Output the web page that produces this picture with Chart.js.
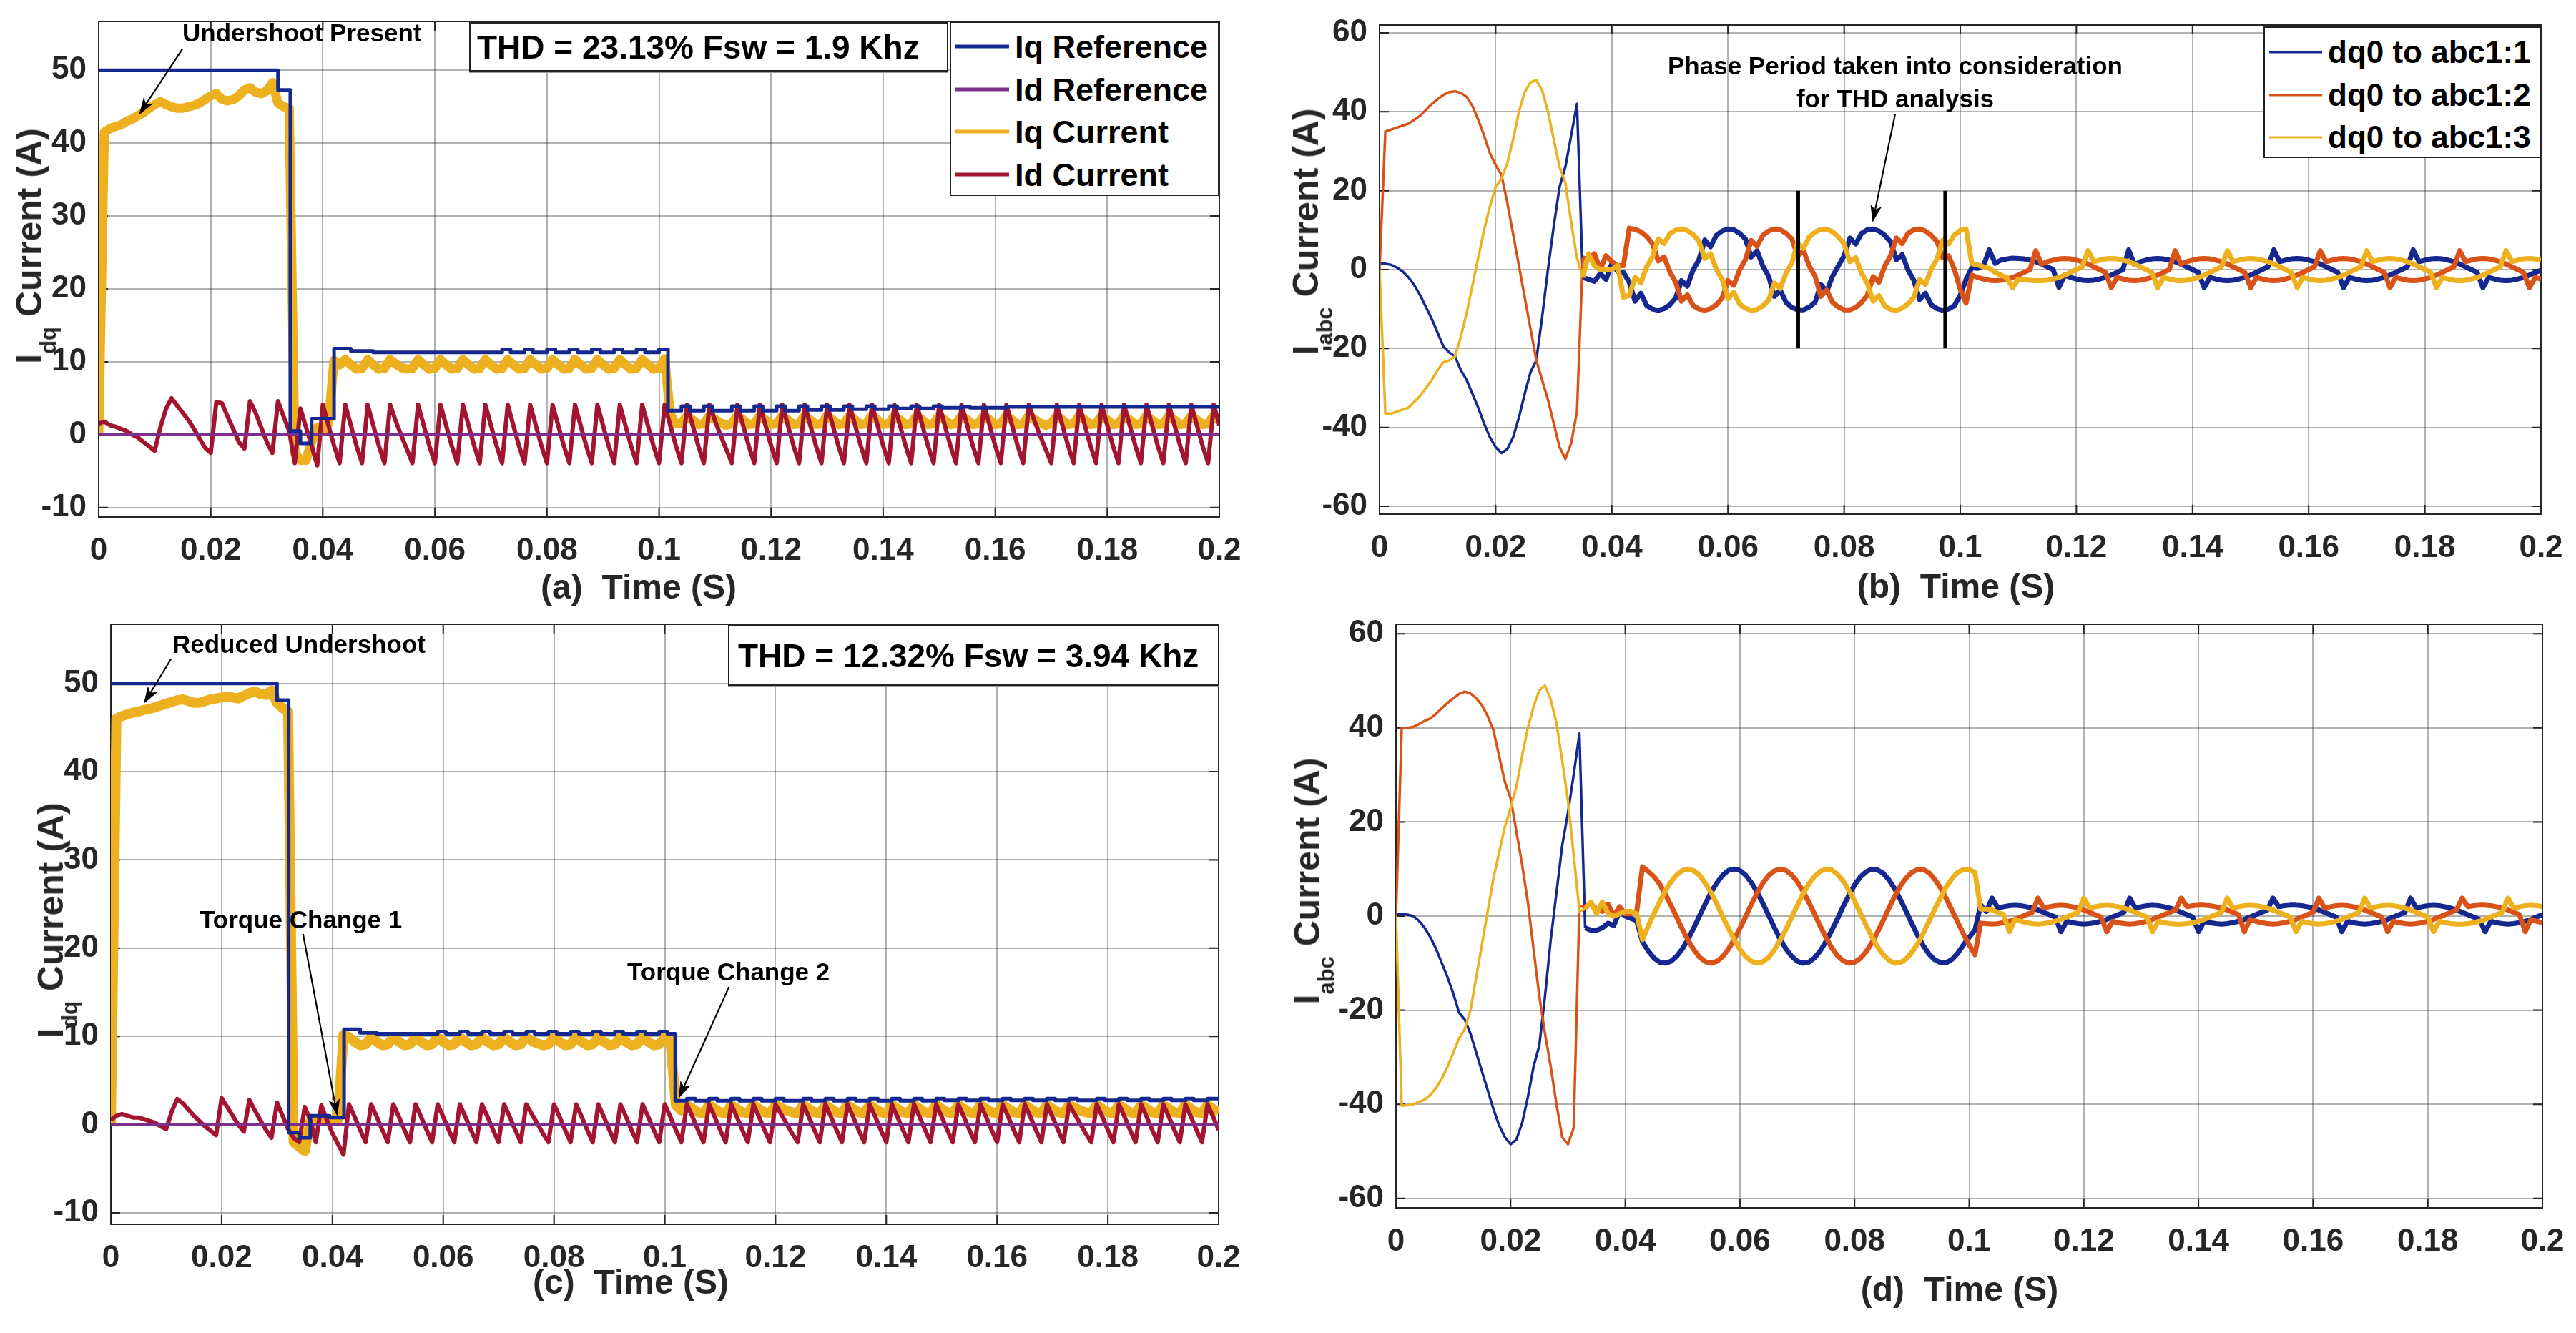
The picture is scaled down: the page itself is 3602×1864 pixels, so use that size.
<!DOCTYPE html>
<html><head><meta charset="utf-8">
<script src="https://cdn.jsdelivr.net/npm/chart.js"></script>
<style>
html,body{margin:0;padding:0;background:#fff;}
#wrap{position:relative;width:3602px;height:1864px;overflow:hidden;font-family:"Liberation Sans",Arial,Helvetica,sans-serif;font-weight:bold;color:#1a1a1a;}
canvas{position:absolute;}
.t{position:absolute;white-space:pre;line-height:1;}
.c{transform:translate(-50%,-50%);}
.yl{transform:translate(-50%,-50%) rotate(-90deg);font-size:50px;color:#262626;}
.xl{font-size:48px;color:#262626;}
.sb{font-size:0.62em;position:relative;top:0.66em;}
.ann{position:absolute;white-space:pre;line-height:1;font-size:35px;transform:translateY(-50%);color:#000;}
.box{position:absolute;box-sizing:border-box;border:2px solid #222;background:#fff;display:flex;align-items:center;white-space:pre;line-height:1;color:#000;box-shadow:0 2px 0 #9a9a9a;}
.leg{position:absolute;box-sizing:border-box;border:2px solid #222;background:#fff;}
.row{position:absolute;left:0;right:0;height:0;}
.sw{position:absolute;transform:translateY(-50%);}
.lt{position:absolute;transform:translateY(-50%);line-height:1;white-space:pre;color:#000;}
</style></head>
<body><div id="wrap">
<canvas id="ca" width="1800" height="850" style="left:0;top:0;width:1800px;height:850px"></canvas>
<canvas id="cb" width="1802" height="850" style="left:1800px;top:0;width:1802px;height:850px"></canvas>
<canvas id="cc" width="1800" height="1014" style="left:0;top:850px;width:1800px;height:1014px"></canvas>
<canvas id="cd" width="1802" height="1014" style="left:1800px;top:850px;width:1802px;height:1014px"></canvas>

<div class="t yl" style="left:41px;top:344px">I<span class="sb">dq</span> Current (A)</div>
<div class="t yl" style="left:1826px;top:324px">I<span class="sb">abc</span> Current (A)</div>
<div class="t yl" style="left:71px;top:1287px">I<span class="sb">dq</span> Current (A)</div>
<div class="t yl" style="left:1828px;top:1232px">I<span class="sb">abc</span> Current (A)</div>

<div class="t c xl" style="left:893px;top:821px">(a)  Time (S)</div>
<div class="t c xl" style="left:2735px;top:820px">(b)  Time (S)</div>
<div class="t c xl" style="left:882px;top:1793px">(c)  Time (S)</div>
<div class="t c xl" style="left:2740px;top:1803px">(d)  Time (S)</div>

<div class="box" style="left:656px;top:31px;width:670px;height:69px;font-size:46px;padding-left:9px">THD = 23.13% Fsw = 1.9 Khz</div>
<div class="box" style="left:1018px;top:874px;width:687px;height:85px;font-size:46px;padding-left:12px">THD = 12.32% Fsw = 3.94 Khz</div>

<div class="leg" style="left:1328px;top:30px;width:377px;height:244px">
 <div class="row" style="top:33px"><span class="sw" style="left:6px;width:75px;height:5px;background:#15288f"></span><span class="lt" style="left:89px;font-size:45px">Iq Reference</span></div>
 <div class="row" style="top:93px"><span class="sw" style="left:6px;width:75px;height:5px;background:#7E2F8E"></span><span class="lt" style="left:89px;font-size:45px">Id Reference</span></div>
 <div class="row" style="top:152px"><span class="sw" style="left:6px;width:75px;height:5px;background:#EDB120"></span><span class="lt" style="left:89px;font-size:45px">Iq Current</span></div>
 <div class="row" style="top:212px"><span class="sw" style="left:6px;width:75px;height:5px;background:#A2142F"></span><span class="lt" style="left:89px;font-size:45px">Id Current</span></div>
</div>
<div class="leg" style="left:3165px;top:37px;width:388px;height:184px">
 <div class="row" style="top:34px"><span class="sw" style="left:6px;width:74px;height:3px;background:#15288f"></span><span class="lt" style="left:88px;font-size:44px">dq0 to abc1:1</span></div>
 <div class="row" style="top:94px"><span class="sw" style="left:6px;width:74px;height:3px;background:#D95319"></span><span class="lt" style="left:88px;font-size:44px">dq0 to abc1:2</span></div>
 <div class="row" style="top:153px"><span class="sw" style="left:6px;width:74px;height:3px;background:#EDB120"></span><span class="lt" style="left:88px;font-size:44px">dq0 to abc1:3</span></div>
</div>

<div class="ann" style="left:255px;top:45px">Undershoot Present</div>
<div class="t" style="left:2650px;top:69px;transform:translateX(-50%);text-align:center;font-size:35px;line-height:46px;color:#000">Phase Period taken into consideration
for THD analysis</div>
<div class="ann" style="left:241px;top:900px">Reduced Undershoot</div>
<div class="ann" style="left:279px;top:1285px">Torque Change 1</div>
<div class="ann" style="left:877px;top:1358px">Torque Change 2</div>
</div>

<script>
// ---------- data (time step 1 ms, t = index * 0.001 s) ----------
const DT = 0.001;
const X_TICKS = [0,0.02,0.04,0.06,0.08,0.1,0.12,0.14,0.16,0.18,0.2];
const X_TICK_LABELS = ['0','0.02','0.04','0.06','0.08','0.1','0.12','0.14','0.16','0.18','0.2'];
const Y_TICKS_DQ = [-10,0,10,20,30,40,50];
const Y_TICKS_ABC = [-60,-40,-20,0,20,40,60];

// (a) step reference [ms, A]
const A_IQ_REF = [[0,50],[32,47.3],[34.2,0.5],[36,-1.2],[38,2.2],[42,11.8],[45,11.5],[49,11.3],
[72,11.7],[73.5,11.3],[76,11.7],[77.5,11.3],[80,11.7],[81.5,11.3],[84,11.7],[85.5,11.3],[88,11.7],[89.5,11.3],[92,11.7],[93.5,11.3],[96,11.7],[97.5,11.3],[100,11.7],
[101.6,3.3],[104,3.9],[105.5,3.3],[108,3.9],[109.5,3.3],[113,3.9],[114.5,3.3],[117,3.9],[118.5,3.3],[121,3.9],[122.5,3.3],[125,3.9],[126.5,3.4],[129,3.9],[130.5,3.4],[133,3.9],[134.5,3.5],[137,3.9],[138.5,3.5],[141,3.9],[142.5,3.6],[145,3.9],[146.5,3.6],[149,3.9],[150.5,3.7],[154,3.8],[155.5,3.7],[162,3.8],[200,3.8]];
const ID_REF = [[0,0],[200,0]];
const A_IQ = [0,41.5,42,42.3,42.5,43,43.3,43.8,44.2,44.8,
45.3,45.7,45.3,45,44.8,44.8,45,45.2,45.5,46,
46.5,46.8,46,45.8,46,46.5,47.3,47.6,47,46.8,
47.2,48.3,45.5,45,44.8,-2.5,-3.5,-3.5,-1,1,
0.5,1.5,10.2,9.6,10.3,9.6,9.0,9.1,10.3,9.6,
9.0,9.1,10.3,9.7,9.2,9.0,9.1,10.3,9.6,9.0,
9.1,10.3,9.6,9.0,9.1,10.3,9.6,9.0,9.1,10.3,
9.6,9.0,9.1,10.3,9.6,9.0,9.1,10.3,9.6,9.0,
9.1,10.3,9.6,9.0,9.1,10.3,9.6,9.0,9.1,10.3,
9.6,9.0,9.1,10.3,9.6,9.0,9.1,10.3,9.6,9.0,
9.1,10.4,2.8,1.5,1.5,2.6,2.0,1.4,1.5,2.6,
2.1,1.6,1.3,1.5,2.6,2.0,1.4,1.5,2.6,2.0,
1.4,1.5,2.6,2.0,1.4,1.5,2.6,2.0,1.4,1.5,
2.6,2.0,1.4,1.5,2.6,2.0,1.4,1.5,2.6,2.0,
1.4,1.5,2.6,2.0,1.4,1.5,2.6,2.0,1.4,1.5,
2.6,2.0,1.4,1.5,2.6,2.0,1.4,1.5,2.6,2.0,
1.4,1.5,2.6,2.0,1.4,1.5,2.6,2.1,1.6,1.3,
1.5,2.6,2.0,1.4,1.5,2.6,2.0,1.4,1.5,2.6,
2.0,1.4,1.5,2.6,2.0,1.4,1.5,2.6,2.0,1.4,
1.5,2.6,2.0,1.4,1.5,2.6,2.0,1.4,1.5,2.6,
2.0];
const A_ID = [1.5,1.8,1.3,1.1,0.8,0.5,0,-0.4,-1.0,-1.6,
-2.2,1.0,3.5,5.0,4.0,3.0,2.0,0.8,-0.5,-1.8,
-2.5,4.5,4.3,2.5,0.8,-1.0,-1.9,4.6,3.0,1.0,
-1.0,-2.5,4.6,2.5,0.5,-3.9,3.6,1.0,-1.5,-4.2,
4.1,1.3,-1.5,-3.9,4.1,1.3,-1.5,-3.9,4.1,1.3,
-1.5,-3.9,4.1,1.9,-0.1,-2.0,-3.9,4.1,1.3,-1.5,
-3.9,4.1,1.3,-1.5,-3.9,4.1,1.3,-1.5,-3.9,4.1,
1.3,-1.5,-3.9,4.1,1.3,-1.5,-3.9,4.1,1.3,-1.5,
-3.9,4.1,1.3,-1.5,-3.9,4.1,1.3,-1.5,-3.9,4.1,
1.3,-1.5,-3.9,4.1,1.3,-1.5,-3.9,4.1,1.3,-1.5,
-3.9,4.1,1.3,-1.5,-3.9,4.1,1.3,-1.5,-3.9,4.1,
1.9,-0.1,-2.0,-3.9,4.1,1.3,-1.5,-3.9,4.1,1.3,
-1.5,-3.9,4.1,1.3,-1.5,-3.9,4.1,1.3,-1.5,-3.9,
4.1,1.3,-1.5,-3.9,4.1,1.3,-1.5,-3.9,4.1,1.3,
-1.5,-3.9,4.1,1.3,-1.5,-3.9,4.1,1.3,-1.5,-3.9,
4.1,1.3,-1.5,-3.9,4.1,1.3,-1.5,-3.9,4.1,1.3,
-1.5,-3.9,4.1,1.3,-1.5,-3.9,4.1,1.9,-0.1,-2.0,
-3.9,4.1,1.3,-1.5,-3.9,4.1,1.3,-1.5,-3.9,4.1,
1.3,-1.5,-3.9,4.1,1.3,-1.5,-3.9,4.1,1.3,-1.5,
-3.9,4.1,1.3,-1.5,-3.9,4.1,1.3,-1.5,-3.9,4.1,
1.3];

// (c)
const C_IQ_REF = [[0,50],[30,48.1],[32.1,-0.9],[34,-1.5],[36,1.0],[39.5,0.8],[42.1,10.8],[45,10.4],[48,10.3],
[59,10.55],[60.5,10.3],[63,10.55],[64.5,10.3],[67,10.55],[68.5,10.3],[71,10.55],[72.5,10.3],[75,10.55],[76.5,10.3],[79,10.55],[80.5,10.3],[83,10.55],[84.5,10.3],[87,10.55],[88.5,10.3],[91,10.55],[92.5,10.3],[95,10.55],[96.5,10.3],[99,10.55],[100.5,10.3],
[101.9,2.7],[104,2.95],[105.5,2.7],[108,2.95],[109.5,2.7],[112,2.95],[113.5,2.7],[116,2.95],[117.5,2.7],[120,2.95],[121.5,2.7],[125,2.95],[126.5,2.7],[129,2.95],[130.5,2.7],[133,2.95],[134.5,2.7],[137,2.95],[138.5,2.7],[141,2.95],[142.5,2.7],[145,2.95],[146.5,2.7],[149,2.95],[150.5,2.75],[153,2.95],[154.5,2.75],[157,2.95],[158.5,2.75],[161,2.95],[162.5,2.75],[165,2.95],[166.5,2.75],[169,2.95],[170.5,2.75],[173,2.95],[174.5,2.75],[178,2.95],[179.5,2.75],[182,2.95],[183.5,2.75],[186,2.95],[187.5,2.75],[190,2.95],[191.5,2.75],[194,2.95],[195.5,2.75],[198,2.95],[200,2.95]];
const C_IQ = [0,46,46.3,46.5,46.7,46.8,47,47.1,47.3,47.5,
47.7,47.9,48.1,48.2,48,47.8,47.8,48,48.2,48.3,
48.4,48.5,48.4,48.3,48.6,48.9,49.1,48.8,48.7,49.2,
47.8,47.2,46.8,-2,-2.5,-3,0.3,0.5,0.6,0.4,
0.5,0.6,10.2,9.9,9.4,9.0,9.1,9.9,9.4,9.0,
9.1,9.9,9.4,9.0,9.1,9.9,9.4,9.0,9.1,9.9,
9.4,9.0,9.1,9.9,9.4,9.0,9.1,9.9,9.4,9.0,
9.1,9.9,9.4,9.0,9.1,9.9,9.5,9.2,9.0,9.1,
9.9,9.4,9.0,9.1,9.9,9.4,9.0,9.1,9.9,9.4,
9.0,9.1,9.9,9.4,9.0,9.1,9.9,9.4,9.0,9.1,
9.9,9.6,2.2,1.6,2.2,1.8,1.4,1.3,2.2,1.8,
1.4,1.3,2.2,1.8,1.4,1.3,2.2,1.8,1.4,1.3,
2.2,1.9,1.6,1.4,1.3,2.2,1.8,1.4,1.3,2.2,
1.8,1.4,1.3,2.2,1.8,1.4,1.3,2.2,1.8,1.4,
1.3,2.2,1.8,1.4,1.3,2.2,1.8,1.4,1.3,2.2,
1.8,1.4,1.3,2.2,1.8,1.4,1.3,2.2,1.8,1.4,
1.3,2.2,1.8,1.4,1.3,2.2,1.8,1.4,1.3,2.2,
1.8,1.4,1.3,2.2,1.9,1.6,1.4,1.3,2.2,1.8,
1.4,1.3,2.2,1.8,1.4,1.3,2.2,1.8,1.4,1.3,
2.2,1.8,1.4,1.3,2.2,1.8,1.4,1.3,2.2,1.8,
1.4];
const C_ID = [0.5,1.0,1.2,1.0,0.8,0.8,0.6,0.4,0.2,-0.2,
-0.5,1.5,2.9,2.4,1.7,1.0,0.4,-0.2,-0.7,-1.2,
3.0,2.0,1.0,0,-0.8,2.8,1.6,0.5,-0.6,-1.5,
2.5,1.0,-0.5,-1.5,-2.0,2.0,0.5,-2.0,2.2,0.5,
-1.0,-2.2,-3.4,2.3,0.9,-0.6,-2.0,2.3,0.9,-0.6,
-2.0,2.3,0.9,-0.6,-2.0,2.3,0.9,-0.6,-2.0,2.3,
0.9,-0.6,-2.0,2.3,0.9,-0.6,-2.0,2.3,0.9,-0.6,
-2.0,2.3,0.9,-0.6,-2.0,2.3,1.2,0.1,-1.0,-2.0,
2.3,0.9,-0.6,-2.0,2.3,0.9,-0.6,-2.0,2.3,0.9,
-0.6,-2.0,2.3,0.9,-0.6,-2.0,2.3,0.9,-0.6,-2.0,
2.3,0.9,-0.6,-2.0,2.3,0.9,-0.6,-2.0,2.3,0.9,
-0.6,-2.0,2.3,0.9,-0.6,-2.0,2.3,0.9,-0.6,-2.0,
2.3,1.2,0.1,-1.0,-2.0,2.3,0.9,-0.6,-2.0,2.3,
0.9,-0.6,-2.0,2.3,0.9,-0.6,-2.0,2.3,0.9,-0.6,
-2.0,2.3,0.9,-0.6,-2.0,2.3,0.9,-0.6,-2.0,2.3,
0.9,-0.6,-2.0,2.3,0.9,-0.6,-2.0,2.3,0.9,-0.6,
-2.0,2.3,0.9,-0.6,-2.0,2.3,0.9,-0.6,-2.0,2.3,
0.9,-0.6,-2.0,2.3,1.2,0.1,-1.0,-2.0,2.3,0.9,
-0.6,-2.0,2.3,0.9,-0.6,-2.0,2.3,0.9,-0.6,-2.0,
2.3,0.9,-0.6,-2.0,2.3,0.9,-0.6,-2.0,2.3,0.9,
-0.6];

// (b) phase currents
const B_ABC1 = [1.5,1.5,1.2,0.5,-0.5,-2,-4,-6.5,-9.5,-12.5,
-16,-19.5,-21,-22,-25.5,-28,-31.5,-35,-39,-42.5,
-45,-46.5,-45.5,-42.5,-37.5,-31.5,-26,-23,-12,0,
11,21,26,34,42,-2,-2.5,-3,-1,-2.5,
1.5,-0.5,-0.7,-3.2,-8,-6,-9.1,-10.0,-10.3,-9.9,
-8.9,-7.2,-2.8,-4.2,-0.1,2.5,7.5,5.8,8.7,9.8,
10.3,10.1,9.2,7.8,3.2,4.8,0.9,-1.7,-6.8,-5.2,
-8.3,-9.6,-10.2,-10.2,-9.5,-8.3,-3.8,-5.6,-1.7,0.9,
3.5,8,6.5,9.2,10.1,10.3,9.8,8.7,7.0,2.5,
3.8,-0.1,-2.7,-7.6,-6.0,-8.9,-9.9,-10.3,-10.0,-9.1,
-6.5,-2.5,0.5,0.3,1.0,5.0,1.6,2.4,2.7,2.9,
2.8,2.7,2.4,2.0,1.4,0.7,0,-4.5,-1.4,-2.0,
-2.4,-2.7,-2.8,-2.7,-2.4,-2.0,-1.4,-0.7,0,5.0,
1.2,2.0,2.4,2.7,2.8,2.7,2.4,2.0,1.4,0.7,
0,-0.7,-4.6,-2.0,-2.4,-2.7,-2.8,-2.7,-2.4,-2.0,
-1.4,-0.7,0,0.7,5.0,2.0,2.4,2.7,2.8,2.7,
2.4,2.0,1.4,0.7,0,-0.7,-4.6,-2.0,-2.4,-2.7,
-2.8,-2.7,-2.4,-2.0,-1.4,-0.7,0,0.7,5.0,2.0,
2.4,2.7,2.8,2.7,2.4,2.0,1.4,0.7,0,-0.7,
-4.6,-2.0,-2.4,-2.7,-2.8,-2.7,-2.4,-2.0,-1.4,-0.7,
-0.2];
const B_ABC2 = [0,35,35.5,36,36.5,37,38,39,40.5,42,
43.2,44.3,45,45.2,44.8,43.8,41.5,38,34,29.5,
26.5,24,17,9,1,-7,-15,-23,-28,-33,
-39,-45,-48,-44,-36,3,2.5,4,0,3.5,
2,1,1,10.5,10.2,9.6,8.4,6.6,2.2,3.2,
-0.6,-3.2,-8,-6.4,-9.1,-10.0,-10.3,-9.9,-8.9,-7.2,
-2.8,-4,-0.1,2.5,7.4,5.9,8.7,9.8,10.3,10.1,
9.2,7.8,3.4,4.8,0.9,-1.7,-6.8,-5.2,-8.3,-9.5,
-10.2,-10.2,-9.6,-8.3,-6.5,-1.8,-3.2,0.9,3.5,8,
6.6,9.2,10.1,10.3,9.8,8.7,7.1,3.0,3.5,0,
-5,-8.5,-1.4,-2.0,-2.4,-2.7,-2.8,-2.7,-2.4,-2.0,
-1.4,-0.7,0,4.8,1.4,2.0,2.4,2.7,2.8,2.7,
2.4,2.0,1.4,0.7,0,-0.7,-4.6,-2.0,-2.4,-2.7,
-2.8,-2.7,-2.4,-2.0,-1.4,-0.7,0,4.8,1.4,2.0,
2.4,2.7,2.8,2.7,2.4,2.0,1.4,0.7,0,-0.7,
-4.6,-2.0,-2.4,-2.7,-2.8,-2.7,-2.4,-2.0,-1.4,-0.7,
0,0.7,4.8,2.0,2.4,2.7,2.8,2.7,2.4,2.0,
1.4,0.7,0,-0.7,-4.6,-2.0,-2.4,-2.7,-2.8,-2.7,
-2.4,-2.0,-1.4,-0.7,0,0.7,4.8,2.0,2.4,2.7,
2.8,2.7,2.4,2.0,1.4,0.7,0,-0.7,-4.6,-2.0,
-2.4];
const B_ABC3 = [0,-36.5,-36.5,-36,-35.5,-35,-33.5,-32,-30,-28,
-25.5,-23.5,-23,-22,-17,-11,-4,3,10,16,
21,23,27,33,40,45,47.5,48,45.5,40,
33,26,22,12,3,-2,4,1,0,0,
0,1,-7,-6.6,-2,-3.4,0.7,3.2,7.8,6.6,
9.1,10.0,10.3,9.9,8.9,7.2,2.8,4.0,0.1,-2.5,
-7.4,-5.8,-8.7,-9.8,-10.3,-10.1,-9.2,-7.8,-3.4,-4.8,
-0.9,1.7,6.8,5.4,8.3,9.5,10.2,10.2,9.6,8.3,
6.5,2.0,3.0,-0.9,-3.5,-8,-6.6,-9.2,-10.1,-10.3,
-9.8,-8.7,-7.1,-2.5,-3.8,0.1,2.7,7.5,6.5,8.8,
9.9,10.3,1.5,1.2,0.7,0.3,-0.7,-1.4,-2.0,-4.6,
-2.4,-2.6,-2.7,-2.8,-2.8,-2.7,-2.4,-2.0,-1.4,-0.7,
0,0.7,4.8,2.0,2.4,2.7,2.8,2.7,2.4,2.0,
1.4,0.7,0,-0.7,-4.6,-2.0,-2.4,-2.7,-2.8,-2.7,
-2.4,-2.0,-1.4,-0.7,0,0.7,4.8,2.0,2.4,2.7,
2.8,2.7,2.4,2.0,1.4,0.7,0,-0.7,-4.6,-2.0,
-2.4,-2.7,-2.8,-2.7,-2.4,-2.0,-1.4,-0.7,0,0.7,
4.8,2.0,2.4,2.7,2.8,2.7,2.4,2.0,1.4,0.7,
0,-0.7,-4.6,-2.0,-2.4,-2.7,-2.8,-2.7,-2.4,-2.0,
-1.4,-0.7,0,0.7,4.8,2.0,2.4,2.7,2.8,2.7,
2.4];
const B_MARK_1 = [[72.1,-20],[72.1,20]];
const B_MARK_2 = [[97.4,-20],[97.4,20]];

// (d) phase currents
const D_ABC1 = [0.5,0.5,0.3,0,-1,-2.5,-4.5,-7,-10,-13,
-16.5,-20.5,-22,-25,-29,-33,-37,-41,-44.5,-47,
-48.5,-47.5,-44,-38.5,-32,-27.5,-17,-5,5,15,
22,30,38.8,-2.5,-3,-3,-2.5,-1.5,-2,1,
0,-0.5,-1,-5.5,-7.4,-8.9,-9.8,-10.0,-9.6,-8.5,
-6.9,-4.8,-2.4,0.2,2.7,5.1,7.1,8.7,9.7,10,
9.7,8.7,7.1,5.1,2.7,0.2,-2.4,-4.8,-6.9,-8.5,
-9.6,-10.0,-9.8,-8.9,-7.4,-5.4,-3.1,-0.6,2.0,4.4,
6.6,8.3,9.4,10.0,9.8,9.1,7.7,5.8,3.5,1.0,
-1.6,-4.1,-6.3,-8.1,-9.3,-9.9,-9.9,-9.2,-7.9,-6.1,
-4.5,-3.0,2.4,1.0,3.8,1.7,2.0,2.2,2.3,2.2,
2.0,1.7,1.3,0.8,0.3,-0.2,-3.3,-1.1,-1.4,-1.6,
-1.7,-1.6,-1.4,-1.1,-0.7,-0.2,0.3,0.8,3.8,1.7,
2.0,2.2,2.3,2.2,2.0,1.7,1.3,0.8,0.3,-0.2,
-3.3,-1.1,-1.4,-1.6,-1.7,-1.6,-1.4,-1.1,-0.7,-0.2,
0.3,0.8,1.3,3.8,2.0,2.2,2.3,2.3,2.2,2.0,
1.7,1.3,0.8,0.3,-0.2,-3.3,-1.1,-1.4,-1.6,-1.7,
-1.6,-1.4,-1.1,-0.7,-0.2,0.3,0.8,3.8,1.7,2.0,
2.2,2.3,2.2,2.0,1.7,1.3,0.8,0.3,-0.2,-0.7,
-3.3,-1.1,-1.4,-1.6,-1.7,-1.6,-1.4,-1.1,-0.7,-0.2,
0.3];
const D_ABC2 = [0,40,40,40.2,40.8,41.5,42,43,44.2,45.3,
46.3,47.2,47.7,47.3,46.3,44.8,42.5,39.5,34,28.5,
25,18,11,3,-7,-17,-25,-32,-40,-47,
-48.5,-45,2,2,2.5,1.5,1,2.5,0,2,
0.5,0.5,1,10.5,9.5,8.4,6.8,4.6,2.2,-0.3,
-2.9,-5.2,-7.2,-8.8,-9.7,-10,-9.6,-8.6,-7.0,-5.0,
-2.6,-0.1,2.5,4.9,7.0,8.6,9.6,10,9.7,8.8,
7.3,5.3,3.0,0.5,-2.1,-4.5,-6.7,-8.4,-9.5,-10,
-9.8,-9.0,-7.6,-5.7,-3.4,-0.9,1.7,4.2,6.4,8.1,
9.3,9.9,9.9,9.2,7.8,6.0,3.7,1.2,-1.3,-3.8,
-6.1,-8.2,-1.5,-1.6,-1.7,-1.6,-1.4,-1.1,-0.7,-0.2,
0.3,0.8,3.8,1.7,2.0,2.2,2.3,2.2,2.0,1.7,
1.3,0.8,0.3,-0.2,-3.3,-1.1,-1.4,-1.6,-1.7,-1.6,
-1.4,-1.1,-0.7,-0.2,0.3,0.8,1.3,3.8,2.0,2.2,
2.3,2.3,2.2,2.0,1.7,1.3,0.8,0.3,-3.3,-0.7,
-1.1,-1.4,-1.6,-1.7,-1.6,-1.4,-1.1,-0.7,-0.2,0.3,
0.8,3.8,1.7,2.0,2.2,2.3,2.2,2.0,1.7,1.3,
0.8,0.3,-0.2,-3.3,-1.1,-1.4,-1.6,-1.7,-1.6,-1.4,
-1.1,-0.7,-0.2,0.3,0.8,1.3,3.8,2.0,2.2,2.3,
2.3,2.2,2.0,1.7,1.3,0.8,0.3,-3.3,-0.7,-1.1,
-1.4];
const D_ABC3 = [0,-40.3,-40.2,-40,-39.5,-39,-38,-36.5,-34.5,-32,
-29,-26,-24,-20,-13,-6,1,8,13.5,19,
23,27.5,34,40,44.5,48,49,46,41,33,
24.5,13,1,1.5,3,0.5,3,0.5,0,0.5,
1,1,0.5,-5,-2.1,0.5,3.0,5.4,7.3,8.8,
9.7,10,9.6,8.6,6.9,4.9,2.5,-0.1,-2.6,-5.0,
-7.1,-8.6,-9.6,-10,-9.7,-8.8,-7.2,-5.2,-2.9,-0.3,
2.2,4.7,6.8,8.4,9.5,10,9.8,8.9,7.5,5.5,
3.2,0.7,-1.9,-4.3,-6.5,-8.2,-9.4,-10,-9.9,-9.1,
-7.7,-5.9,-3.6,-1.1,1.5,3.9,6.2,8.0,9.3,9.9,
9.9,9.3,1.5,1.5,1.3,0.8,0.3,-3.3,-0.7,-1.1,
-1.4,-1.6,-1.7,-1.6,-1.4,-1.1,-0.7,-0.2,0.3,0.8,
3.8,1.7,2.0,2.2,2.3,2.2,2.0,1.7,1.3,0.8,
0.3,-0.2,-3.3,-1.1,-1.4,-1.6,-1.7,-1.7,-1.6,-1.4,
-1.1,-0.7,-0.2,0.3,0.8,3.8,1.7,2.0,2.2,2.3,
2.2,2.0,1.7,1.3,0.8,0.3,-0.2,-3.3,-1.1,-1.4,
-1.6,-1.7,-1.6,-1.4,-1.1,-0.7,-0.2,0.3,0.8,3.8,
1.7,2.0,2.2,2.3,2.2,2.0,1.7,1.3,0.8,0.3,
-0.2,-3.3,-1.1,-1.4,-1.6,-1.7,-1.7,-1.6,-1.4,-1.1,
-0.7,-0.2,0.3,0.8,3.8,1.7,2.0,2.2,2.3,2.2,
2.0];

// annotation arrows [tail t, tail A, head t, head A]
const ARROWS_A = [[0.01493,52.9,0.0072,43.9]];
const ARROWS_B = [[0.0888,39.5,0.0849,12.0]];
const ARROWS_C = [[0.01085,52.75,0.00594,47.7],[0.0347,21.6,0.0409,0.93],[0.1116,15.6,0.1025,2.96]];

// ---------- styling ----------
const BLUE = '#15288f', PURPLE = '#7E2F8E', YELLOW = '#EDB120', RED = '#A2142F', ORANGE = '#D95319';
const TXT = '#262626';
const GRID = 'rgba(0,0,0,0.3)';
const FAM = '"Liberation Sans", Arial, Helvetica, sans-serif';
const TICK_FONT = {family: FAM, size: 44, weight: 'bold'};

const series = vals => vals.map((v, i) => ({x: i * DT, y: v}));
const pairs = list => list.map(p => ({x: p[0] / 1000, y: p[1]}));

const framePlugin = {
  id: 'frame',
  beforeDatasetsDraw(chart) {
    const {ctx, chartArea: a, scales: {x, y}} = chart;
    ctx.save();
    ctx.strokeStyle = TXT; ctx.lineWidth = 2;
    ctx.strokeRect(a.left, a.top, a.right - a.left, a.bottom - a.top);
    const L = 13;
    ctx.beginPath();
    x.ticks.forEach(t => { const px = x.getPixelForValue(t.value);
      ctx.moveTo(px, a.bottom); ctx.lineTo(px, a.bottom - L); ctx.moveTo(px, a.top); ctx.lineTo(px, a.top + L); });
    y.ticks.forEach(t => { const py = y.getPixelForValue(t.value);
      ctx.moveTo(a.left, py); ctx.lineTo(a.left + L, py); ctx.moveTo(a.right, py); ctx.lineTo(a.right - L, py); });
    ctx.stroke();
    ctx.restore();
  }
};
function drawArrow(ctx, x1, y1, x2, y2) {
  const ang = Math.atan2(y2 - y1, x2 - x1), len = 24, w = 8;
  ctx.beginPath(); ctx.moveTo(x1, y1);
  ctx.lineTo(x2 - Math.cos(ang) * len * 0.7, y2 - Math.sin(ang) * len * 0.7); ctx.stroke();
  ctx.beginPath(); ctx.moveTo(x2, y2);
  ctx.lineTo(x2 - len * Math.cos(ang) + w * Math.sin(ang), y2 - len * Math.sin(ang) - w * Math.cos(ang));
  ctx.lineTo(x2 - len * 0.75 * Math.cos(ang), y2 - len * 0.75 * Math.sin(ang));
  ctx.lineTo(x2 - len * Math.cos(ang) - w * Math.sin(ang), y2 - len * Math.sin(ang) + w * Math.cos(ang));
  ctx.closePath(); ctx.fill();
}
function arrowPlugin(list) {
  return { id: 'arrows', afterDatasetsDraw(chart) {
    const {ctx, scales: {x, y}} = chart;
    ctx.save(); ctx.strokeStyle = '#000'; ctx.fillStyle = '#000'; ctx.lineWidth = 2.2;
    list.forEach(a => drawArrow(ctx, x.getPixelForValue(a[0]), y.getPixelForValue(a[1]), x.getPixelForValue(a[2]), y.getPixelForValue(a[3])));
    ctx.restore();
  }};
}

function build(id, o) {
  return new Chart(document.getElementById(id), {
    type: 'line',
    data: {datasets: o.datasets},
    options: {
      responsive: false, animation: false, devicePixelRatio: 1, events: [],
      layout: {autoPadding: false, padding: {left: 0, top: o.padTop, right: o.padRight, bottom: 0}},
      elements: {point: {radius: 0}, line: {tension: 0, borderJoinStyle: 'round', borderCapStyle: 'butt'}},
      plugins: {legend: {display: false}, tooltip: {enabled: false}},
      scales: {
        x: {type: 'linear', min: 0, max: 0.2,
          afterBuildTicks: s => { s.ticks = X_TICKS.map(v => ({value: v})); },
          afterFit: s => { s.height = o.xH; s.paddingLeft = 0; s.paddingRight = 0; },
          ticks: {autoSkip: false, maxRotation: 0, minRotation: 0, padding: 21, color: TXT, font: TICK_FONT,
            callback: (v, i) => X_TICK_LABELS[i]},
          grid: {color: GRID, lineWidth: 2, drawTicks: false}, border: {display: false}},
        y: {type: 'linear', min: o.yMin, max: o.yMax,
          afterBuildTicks: s => { s.ticks = o.yTicks.map(v => ({value: v})); },
          afterFit: s => { s.width = o.yW; s.paddingTop = 0; s.paddingBottom = 0; },
          ticks: {padding: 17, color: TXT, font: TICK_FONT, callback: v => String(v)},
          grid: {color: GRID, lineWidth: 2, drawTicks: false}, border: {display: false}}
      }
    },
    plugins: [framePlugin, arrowPlugin(o.arrows || [])]
  });
}

const thinUntil = n => ({borderWidth: c => (c.p0DataIndex < n ? 3.5 : 7)});

build('ca', {padTop: 30, padRight: 95, xH: 127, yW: 138, yMin: -11.3, yMax: 56.7, yTicks: Y_TICKS_DQ, arrows: ARROWS_A,
  datasets: [
    {label: 'Iq Reference', data: pairs(A_IQ_REF), borderColor: BLUE, borderWidth: 5, stepped: true, order: 0},
    {label: 'Id Reference', data: pairs(ID_REF), borderColor: PURPLE, borderWidth: 4, order: 1},
    {label: 'Iq Current', data: series(A_IQ), borderColor: YELLOW, borderWidth: 13, order: 3},
    {label: 'Id Current', data: series(A_ID), borderColor: RED, borderWidth: 6, order: 2}
  ]});
build('cb', {padTop: 35, padRight: 49, xH: 131, yW: 129, yMin: -62, yMax: 62, yTicks: Y_TICKS_ABC, arrows: ARROWS_B,
  datasets: [
    {label: 'dq0 to abc1:1', data: series(B_ABC1), borderColor: BLUE, borderWidth: 7, segment: thinUntil(35), order: 3},
    {label: 'dq0 to abc1:2', data: series(B_ABC2), borderColor: ORANGE, borderWidth: 7, segment: thinUntil(35), order: 2},
    {label: 'dq0 to abc1:3', data: series(B_ABC3), borderColor: YELLOW, borderWidth: 7, segment: thinUntil(35), order: 1},
    {label: 'mark1', data: pairs(B_MARK_1), borderColor: '#000', borderWidth: 5, order: 0},
    {label: 'mark2', data: pairs(B_MARK_2), borderColor: '#000', borderWidth: 5, order: 0}
  ]});
build('cc', {padTop: 23, padRight: 96, xH: 152, yW: 155, yMin: -11.3, yMax: 56.7, yTicks: Y_TICKS_DQ, arrows: ARROWS_C,
  datasets: [
    {label: 'Iq Reference', data: pairs(C_IQ_REF), borderColor: BLUE, borderWidth: 5, stepped: true, order: 0},
    {label: 'Id Reference', data: pairs(ID_REF), borderColor: PURPLE, borderWidth: 4, order: 1},
    {label: 'Iq Current', data: series(C_IQ), borderColor: YELLOW, borderWidth: 14, order: 3},
    {label: 'Id Current', data: series(C_ID), borderColor: RED, borderWidth: 6, order: 2}
  ]});
build('cd', {padTop: 23, padRight: 47, xH: 175, yW: 152, yMin: -62, yMax: 62, yTicks: Y_TICKS_ABC,
  datasets: [
    {label: 'dq0 to abc1:1', data: series(D_ABC1), borderColor: BLUE, borderWidth: 7, segment: thinUntil(33), order: 3},
    {label: 'dq0 to abc1:2', data: series(D_ABC2), borderColor: ORANGE, borderWidth: 7, segment: thinUntil(33), order: 2},
    {label: 'dq0 to abc1:3', data: series(D_ABC3), borderColor: YELLOW, borderWidth: 7, segment: thinUntil(33), order: 1}
  ]});
</script>
</body></html>
